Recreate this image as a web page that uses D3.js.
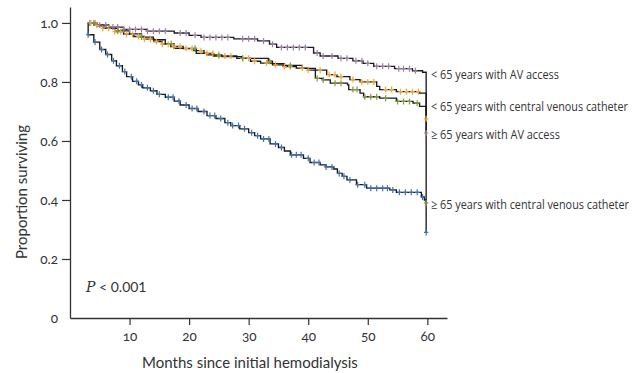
<!DOCTYPE html>
<html><head><meta charset="utf-8">
<script src="https://cdn.jsdelivr.net/npm/d3@7"></script>
<style>
body{margin:0;background:#fff}
svg{display:block}
.ax text{font-family:Lato,"Open Sans",sans-serif;font-size:13.5px;fill:#333;font-variant-numeric:oldstyle-nums}
.title{font-family:Lato,"Open Sans",sans-serif;font-size:15px;fill:#333}
.lab{font-family:"Open Sans",Lato,sans-serif;font-size:13px;fill:#333}
</style></head><body>
<svg id="c" width="643" height="373"></svg>
<script>
// Step data: [month, proportion surviving]
const lt65AV = [[3,1.0],[4.5,0.993],[6.5,0.986],[9,0.978],[13,0.972],[17.5,0.966],[20,0.958],[22,0.951],[27.5,0.946],[31.5,0.939],[33.5,0.928],[34.7,0.917],[40.9,0.898],[42,0.888],[45,0.88],[47.5,0.872],[49.2,0.863],[51,0.853],[54.5,0.845],[57.5,0.838],[59.2,0.833],[59.8,0.627]];
const lt65CVC = [[3,1.0],[4,0.992],[5.5,0.982],[7.5,0.971],[9,0.962],[10.7,0.954],[12.5,0.945],[14.1,0.937],[15.5,0.928],[16.9,0.92],[19,0.913],[20.8,0.906],[22.5,0.897],[24.1,0.888],[28,0.88],[30.3,0.87],[32,0.864],[34,0.858],[35.8,0.852],[38,0.847],[40,0.84],[43.1,0.825],[44.8,0.818],[47,0.808],[48.7,0.8],[51.5,0.785],[52,0.774],[54.8,0.767],[58.7,0.762],[59.8,0.675]];
const ge65AV = [[3,1.0],[4.5,0.99],[6,0.982],[8,0.973],[10,0.963],[12,0.952],[14,0.943],[16,0.93],[17.5,0.914],[21.2,0.897],[23,0.892],[25.5,0.886],[28.8,0.88],[33.3,0.87],[34,0.862],[36,0.856],[39,0.846],[41.2,0.812],[42.5,0.807],[43.7,0.796],[46.6,0.79],[46.8,0.774],[48.7,0.762],[49.3,0.75],[52,0.745],[54.8,0.734],[57.6,0.728],[58.7,0.717],[59.8,0.39]];
const ge65CVC = [[3,1.0],[3.05,0.96],[4,0.935],[5,0.91],[6,0.893],[7,0.872],[7.8,0.855],[8.8,0.835],[9.5,0.818],[10.5,0.802],[11.5,0.79],[12.2,0.78],[13.5,0.77],[14.6,0.758],[16,0.748],[17.5,0.735],[18.5,0.722],[20,0.71],[21.5,0.7],[23,0.686],[24.5,0.676],[26,0.662],[27,0.652],[28.5,0.641],[30,0.628],[31,0.618],[32,0.607],[33.6,0.59],[35,0.578],[36,0.566],[37,0.553],[39.2,0.541],[40.3,0.527],[42,0.519],[43,0.512],[44.3,0.505],[44.9,0.49],[45.7,0.48],[46.5,0.468],[48.1,0.452],[49.8,0.44],[53.7,0.434],[54.8,0.426],[59,0.41],[59.5,0.4],[59.8,0.29]];

// Censored observation months
const cens_lt65AV = [3.3,4.2,5,6,7.2,8,9,10,11,12,13,14,15,16,18.5,19.5,21,22.5,23.5,24.5,25.5,26.5,29,30,31,32.5,34,35.5,36.5,37.5,38.5,39.5,41.5,42.5,44,45.5,46.5,48,49,50,51.5,52.5,53.5,55.2,56,57,58,59.8];
const cens_lt65CVC = [3.5,4.5,5.5,6.5,7.5,8.5,9.5,10.5,11.5,12.5,13.5,14.5,15.5,16.5,17.5,18.5,19.5,20.5,22,23,24,25,26,27,29,30,31,33,34.5,36,37,39,40,42,43.5,44.5,45.5,47.5,49,50,51,53,54,55.5,56.5,57.5,58.5,59.8];
const cens_ge65AV = [4,8,12,17,21,25,29,33.5,37,41.5,42.5,44.5,45.5,47.5,48.2,49.5,50.5,51.5,53,55,56,57,58.3,59.8];
const cens_ge65CVC = [3.05,4.2,5.3,6.3,7.3,8.3,9.2,10.3,11.2,12,13,14,15,16.5,17.3,18.3,19.5,20.5,21.3,22.5,23.5,24.3,25.3,26.5,27.3,28.3,29.3,30.5,31.5,32.5,33.4,34.5,35.5,37.2,38,38.8,40,41,41.8,43,44,45.2,46,47,48.3,49.5,50.5,51.5,52.5,53.3,54.2,55.3,56.3,57.3,58.3,59.2,59.8];

const seriesColors = ["#9b7ea6","#f5a533","#7d9b3e","#3f72b5"];
const labels = ["< 65 years with AV access","< 65 years with central venous catheter","\u2265 65 years with AV access","\u2265 65 years with central venous catheter"];
const labelValues = [0.81, 0.703, 0.605, 0.37];
const labelWidths = [128, 197, 129, 198];
const xTicks = [10,20,30,40,50,60];
const yTicks = [0,0.2,0.4,0.6,0.8,1.0];
const yTickLabels = ["0","0.2","0.4","0.6","0.8","1.0"];

const svg = d3.select("#c");
const x = d3.scaleLinear().domain([0,63.3]).range([70,447]);
const y = d3.scaleLinear().domain([0,1.054]).range([318,7]);

const series = [
  {data:lt65AV, cens:cens_lt65AV},
  {data:lt65CVC, cens:cens_lt65CVC},
  {data:ge65AV, cens:cens_ge65AV},
  {data:ge65CVC, cens:cens_ge65CVC}
];

function stepVal(data, t){
  let v = data[0][1];
  for(const d of data){ if(d[0] <= t) v = d[1]; }
  return v;
}

const line = d3.line().x(d=>x(d[0])).y(d=>y(d[1])).curve(d3.curveStepAfter);

series.forEach((s,i)=>{
  svg.append("path").datum(s.data).attr("d",line)
    .attr("fill","none").attr("stroke","#1a1a1a").attr("stroke-width",1.35);
});
series.forEach((s,i)=>{
  const g = svg.append("g");
  g.selectAll("path").data(s.cens).join("path")
    .attr("d", t=>{const px=x(t), py=y(stepVal(s.data,t)); return `M${px},${py-3}V${py+3}M${px-2.2},${py}H${px+2.2}`;})
    .attr("stroke", seriesColors[i]).attr("stroke-width",1.2).attr("fill","none");
});

// axes
const xa = svg.append("g").attr("class","ax").attr("transform","translate(0,318)")
  .call(d3.axisBottom(x).tickValues(xTicks).tickSize(7).tickPadding(6).tickSizeOuter(0));
const ya = svg.append("g").attr("class","ax").attr("transform","translate(70,0)")
  .call(d3.axisLeft(y).tickValues(yTicks).tickFormat((d,i)=>yTickLabels[i]).tickSize(8).tickPadding(4).tickSizeOuter(0));
ya.selectAll(".tick").filter(d=>d===0).select("line").remove();
[xa,ya].forEach(a=>{a.select(".domain").attr("stroke","#333").attr("stroke-width",1.3);a.selectAll(".tick line").attr("stroke","#333").attr("stroke-width",1.2);});

svg.append("text").attr("class","title").attr("x",250).attr("y",368).attr("text-anchor","middle").text("Months since initial hemodialysis");
svg.append("text").attr("class","title").attr("transform","translate(27,192) rotate(-90)").attr("text-anchor","middle").text("Proportion surviving");

const pt = svg.append("text").attr("class","title").attr("x",86).attr("y",292).style("font-size","14px");
pt.append("tspan").attr("font-style","italic").style("font-family","'DejaVu Serif',serif").text("P");
pt.append("tspan").text(" < 0.001");

// condensed labels: natural text horizontally scaled to the reference width
svg.selectAll(".lab").data(labels).join("text").attr("class","lab")
  .attr("x",0).attr("y",0).text(d=>d)
  .each(function(d,i){
    const w = this.getComputedTextLength();
    const k = labelWidths[i]/w;
    d3.select(this).attr("transform",`translate(431,${y(labelValues[i])}) scale(${k},1)`);
  });
</script></body></html>
